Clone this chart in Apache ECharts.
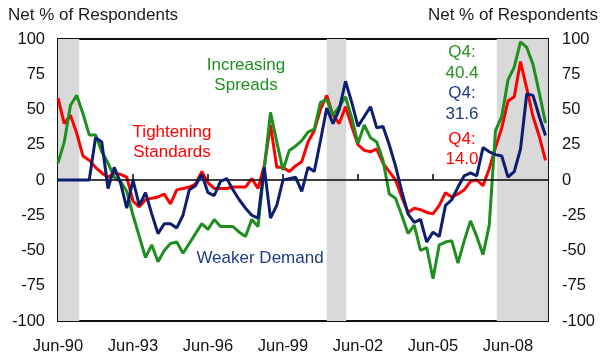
<!DOCTYPE html>
<html>
<head>
<meta charset="utf-8">
<script src="https://cdn.jsdelivr.net/npm/echarts@6/dist/echarts.min.js"></script>
<style>
  html, body { margin: 0; padding: 0; background: #fff; }
  #chart { width: 601px; height: 358px; }
</style>
</head>
<body>
<div id="chart"></div>
<script>
// Senior loan officer survey, quarterly, Jun-90 (index 0) through Dec-09 (index 78)
const firstYear = 1990.25; // quarter index 0 = Q2 1990

const tightening = [
  58, 40, 46, 33, 17, 14, 9, 5, 2, 5,
  4, 2, -15, -19, -14, -13, -12, -10, -17, -7,
  -6, -5, -3, 6, -2, -6, -6, -6, -5, -5,
  -5, 1, -6, 10, 39, 9, 9, 6, 10, 13,
  27, 35, 50, 60, 46, 40, 52, 38, 25, 21,
  20, 22, 12, 6, 0, -12, -23, -20, -21, -23,
  -24, -18, -9, -12, -10, -7, -1, 0, -4, 8,
  23, 37, 56, 59, 84, 65, 45, 31, 14.0
];

const spreads = [
  12, 27, 53, 60, 47, 32, 32, 20, 12, 2,
  -1, -8, -25, -40, -55, -46, -58, -50, -45, -44,
  -52, -45, -38, -31, -35, -28, -33, -33, -33, -37,
  -40, -28, -33, 8, 48, 27, 7, 21, 24, 28,
  34, 36, 55, 57, 46, 52, 59, 44, 26, 39,
  30, 27, 14, -10, -13, -25, -38, -32, -50, -48,
  -70, -46, -44, -43, -59, -43, -29, -40, -53, -32,
  35, 45, 71, 80, 98, 94, 82, 62, 40.4
];

const demand = [
  0, 0, 0, 0, 0, 0, 30, 27, -6, 9,
  -2, -20, 0, -18, -9, -24, -38, -31, -31, -34,
  -25, -7, -4, 4, -9, -11, -1, 1, -7, -14,
  -20, -25, -27, 9, -27, -18, 0, 1, 2, -8,
  9, 6, 28, 51, 40, 50, 70, 55, 38, 45,
  52, 37, 38, 25, 10, -8, -24, -30, -28, -44,
  -37, -40, -18, -14, -5, 3, 5, 3, 23, 20,
  18, 17, 2, 6, 22, 61, 60, 45, 31.6
];

// x-axis tick labels, one every 12 quarters
const tickLabels = ['Jun-90', 'Jun-93', 'Jun-96', 'Jun-99', 'Jun-02', 'Jun-05', 'Jun-08'];

// Recessions, in quarter index units
const recessions = [[0, 3.4], [43.0, 46.1], [70.2, 78.4]];

const RED = '#ff0000', GREEN = '#1e8f1e', BLUE = '#0c1f6e';
const FONT = '"Liberation Sans", Arial, sans-serif';

function pairs(arr) { return arr.map((v, i) => [i, v]); }

const chart = echarts.init(document.getElementById('chart'), null, { renderer: 'canvas' });

const yAxisBase = {
  type: 'value', min: -100, max: 100, interval: 25,
  axisLine: { show: false },
  axisTick: { show: true, inside: true, length: 5, lineStyle: { color: '#000', width: 1.5 } },
  splitLine: { show: false },
  axisLabel: { color: '#111', fontFamily: FONT, fontSize: 16.5 }
};

const last = a => a[a.length - 1].toFixed(1);

chart.setOption({
  animation: false,
  grid: { left: 58, right: 53, top: 39, bottom: 37, show: true, borderColor: '#111', borderWidth: 2, backgroundColor: 'transparent' },
  xAxis: {
    type: 'value', min: 0, max: 78.4, interval: 12,
    axisLine: { show: false },
    axisTick: { show: true, inside: true, length: 6, lineStyle: { color: '#000', width: 1.5 } },
    splitLine: { show: false },
    axisLabel: {
      color: '#111', fontFamily: FONT, fontSize: 16.5, margin: 17,
      showMaxLabel: false,
      formatter: v => (v % 12 === 0 ? tickLabels[v / 12] : '')
    }
  },
  yAxis: [
    Object.assign({}, yAxisBase, { position: 'left', axisLabel: Object.assign({}, yAxisBase.axisLabel, { margin: 13 }) }),
    Object.assign({}, yAxisBase, { position: 'right', axisLabel: Object.assign({}, yAxisBase.axisLabel, { margin: 14 }) })
  ],
  series: [
    {
      name: 'bands', type: 'line', data: [], z: 1, silent: true,
      markArea: {
        silent: true,
        itemStyle: { color: '#d9d9d9' },
        data: recessions.map(r => [{ xAxis: r[0] }, { xAxis: r[1] }])
      },
      markLine: {
        silent: true, symbol: 'none', label: { show: false },
        lineStyle: { color: '#000', width: 1.5, type: 'solid' },
        data: [{ yAxis: 0 }]
      }
    },
    { name: 'Tightening Standards', type: 'line', data: pairs(tightening), showSymbol: false, z: 3,
      lineStyle: { color: RED, width: 3 }, itemStyle: { color: RED } },
    { name: 'Increasing Spreads', type: 'line', data: pairs(spreads), showSymbol: false, z: 4,
      lineStyle: { color: GREEN, width: 3 }, itemStyle: { color: GREEN } },
    { name: 'Weaker Demand', type: 'line', data: pairs(demand), showSymbol: false, z: 5,
      lineStyle: { color: BLUE, width: 3 }, itemStyle: { color: BLUE } }
  ],
  graphic: [
    { type: 'text', left: 8, top: 7, style: { text: 'Net % of Respondents', font: '17px ' + FONT, fill: '#1a1a1a' } },
    { type: 'text', right: 3, top: 7, style: { text: 'Net % of Respondents', font: '17px ' + FONT, fill: '#1a1a1a' } },
    { type: 'text', x: 246, y: 55, style: { text: 'Increasing\nSpreads', font: '17px ' + FONT, fill: GREEN, align: 'center', lineHeight: 20 } },
    { type: 'text', x: 172, y: 122, style: { text: 'Tightening\nStandards', font: '17px ' + FONT, fill: RED, align: 'center', lineHeight: 20 } },
    { type: 'text', x: 260, y: 250, style: { text: 'Weaker Demand', font: '17px ' + FONT, fill: '#1f3a86', align: 'center' } },
    { type: 'text', x: 462, y: 42, style: { text: 'Q4:\n' + last(spreads), font: '17px ' + FONT, fill: '#2a8f1e', align: 'center', lineHeight: 21 } },
    { type: 'text', x: 462, y: 83, style: { text: 'Q4:\n' + last(demand), font: '17px ' + FONT, fill: '#1f3a86', align: 'center', lineHeight: 21 } },
    { type: 'text', x: 462, y: 129, style: { text: 'Q4:\n' + last(tightening), font: '17px ' + FONT, fill: RED, align: 'center', lineHeight: 20 } }
  ]
});
</script>
</body>
</html>
